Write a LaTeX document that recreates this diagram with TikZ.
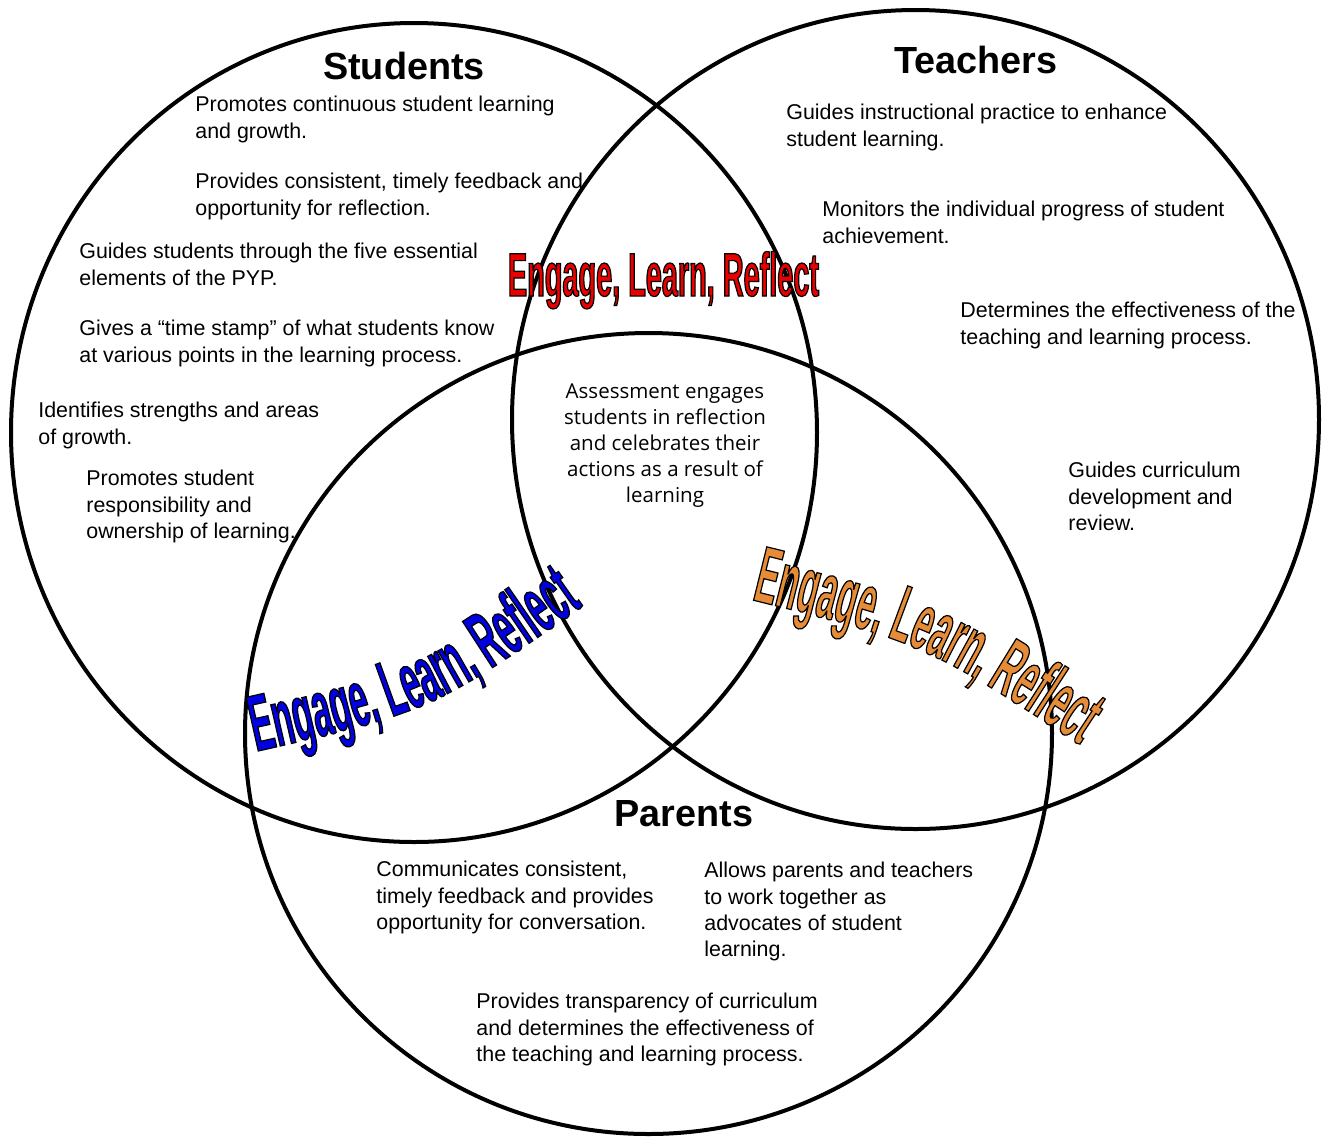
\documentclass[tikz,border=0pt]{standalone}
\usepackage{fontspec}
\setmainfont{Liberation Sans}
\newfontfamily\corefont{Open Sans}
\newfontfamily\wordfont[FakeStretch=0.47]{Liberation Sans}
\newfontfamily\arcfont[FakeStretch=0.42]{Liberation Sans}
\usetikzlibrary{decorations.text}

\definecolor{elrred}{RGB}{235,0,0}
\definecolor{elrblue}{RGB}{0,0,225}
\definecolor{elrorange}{RGB}{230,140,55}

% black outline round the word art letters
\newcommand{\outlinetext}{\special{pdf:literal direct 2 Tr 0 G 0.6 w}}

\begin{document}
\begin{tikzpicture}[x=0.5pt,y=-0.5pt,
	ring/.style	={draw,line width=2pt},
	heading/.style	={anchor=base,inner sep=0pt,font=\fontsize{18.9}{22}\selectfont\bfseries},
	point/.style	={anchor=north west,inner sep=0pt,align=left,font=\fontsize{10.7}{13.15}\selectfont},
	core/.style	={anchor=north,inner sep=0pt,align=center,font=\corefont\fontsize{10.25}{13}\selectfont},
	wordart/.style	={decorate,decoration={text along path,text align=center,text color=#1,
			text={|\arcfont\bfseries\fontsize{40}{46}\selectfont\outlinetext|Engage, Learn, Reflect}}},
	]
	\useasboundingbox (0,0) rectangle (1324,1137);
	
	% circles
	\coordinate (stu) at (414,432.5);
	\coordinate (tea) at (915.5,419.5);
	\coordinate (par) at (648.5,733.5);
	\draw [ring] (stu) ellipse [x radius=403, y radius=409.5];
	\draw [ring] (tea) ellipse [x radius=403.5, y radius=409.5];
	\draw [ring] (par) ellipse [x radius=403.5, y radius=400.5];
	
	\node [heading] (students) at (404,79) {Students};
	\node [heading] (teachers) at (976,73) {Teachers};
	\node [heading] (parents) at (684,826) {Parents};
	
	% students
	\node [point] (s1) at (195,96) {Promotes continuous student learning\\and growth.};
	\node [point] (s2) at (195,173) {Provides consistent, timely feedback and\\opportunity for reflection.};
	\node [point] (s3) at (79,243) {Guides students through the five essential\\elements of the PYP.};
	\node [point] (s4) at (79,320) {Gives a “time stamp” of what students know\\at various points in the learning process.};
	\node [point] (s5) at (38,402) {Identifies strengths and areas\\of growth.};
	\node [point] (s6) at (86,470) {Promotes student\\responsibility and\\ownership of learning.};
	
	% teachers
	\node [point] (t1) at (786,104) {Guides instructional practice to enhance\\student learning.};
	\node [point] (t2) at (822,201) {Monitors the individual progress of student\\achievement.};
	\node [point] (t3) at (960,302) {Determines the effectiveness of the\\teaching and learning process.};
	\node [point] (t4) at (1068,462) {Guides curriculum\\development and\\review.};
	
	% parents
	\node [point] (p1) at (376,861) {Communicates consistent,\\timely feedback and provides\\opportunity for conversation.};
	\node [point] (p2) at (704,862) {Allows parents and teachers\\to work together as\\advocates of student\\learning.};
	\node [point] (p3) at (476,993) {Provides transparency of curriculum\\and determines the effectiveness of\\the teaching and learning process.};
	
	\node [core] (assess) at (665,383) {Assessment engages\\students in reflection\\and celebrates their\\actions as a result of\\learning};
	
	% word art
	\node [anchor=base,inner sep=0pt,text=elrred,font=\wordfont\bfseries\fontsize{30.7}{36}\selectfont] (elrtop) at (663.5,296) {\outlinetext Engage, Learn, Reflect};
	
	\coordinate (bluefrom) at (236,756);
	\coordinate (bluebend) at (432,712);
	\coordinate (blueto) at (600,594);
	\path [wordart=elrblue] (bluefrom) .. controls (bluebend) .. (blueto);
	
	\coordinate (orangefrom) at (728,594);
	\coordinate (orangebend) at (924,642);
	\coordinate (orangeto) at (1100,758);
	\path [wordart=elrorange] (orangefrom) .. controls (orangebend) .. (orangeto);
\end{tikzpicture}
\end{document}
